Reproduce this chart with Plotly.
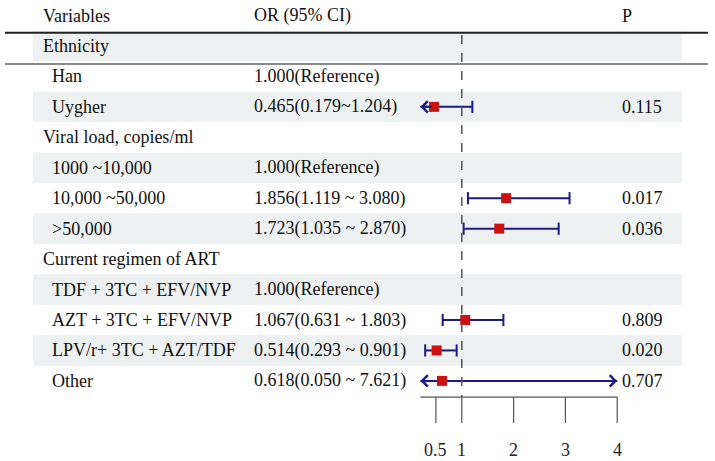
import plotly.graph_objects as go

# ---------------- data ----------------
labels = ["Ethnicity", "Han", "Uygher", "Viral load, copies/ml", "1000 ~10,000",
          "10,000 ~50,000", ">50,000", "Current regimen of ART",
          "TDF + 3TC + EFV/NVP", "AZT + 3TC + EFV/NVP", "LPV/r+ 3TC + AZT/TDF", "Other"]
is_group = [True, False, False, True, False, False, False, True, False, False, False, False]
or_text = ["", "1.000(Reference)", "0.465(0.179~1.204)", "", "1.000(Reference)",
           "1.856(1.119 ~ 3.080)", "1.723(1.035 ~ 2.870)", "", "1.000(Reference)",
           "1.067(0.631 ~ 1.803)", "0.514(0.293 ~ 0.901)", "0.618(0.050 ~ 7.621)"]
p_text = ["", "", "0.115", "", "", "0.017", "0.036", "", "", "0.809", "0.020", "0.707"]
or_val = [None, None, 0.465, None, None, 1.856, 1.723, None, None, 1.067, 0.514, 0.618]
ci_low = [None, None, 0.179, None, None, 1.119, 1.035, None, None, 0.631, 0.293, 0.050]
ci_high = [None, None, 1.204, None, None, 3.080, 2.870, None, None, 1.803, 0.901, 7.621]
tick_vals = [0.5, 1, 2, 3, 4]
tick_labels = ["0.5", "1", "2", "3", "4"]
clip = [0.2, 4]

# --------------- layout helpers ---------------
W, H = 715, 461
FONT = "Liberation Serif, Times New Roman, serif"
FS = 18
NAVY = "#1b1b86"
RED = "#cc1111"
GREY = "#555555"
SHADE = "#eef1f1"

rows = list(range(1, len(labels) + 1))   # header is row 0
x_px0, x_unit = 410.0, 51.8                # pixel of x=0 and pixels per unit
y_px0, y_unit = 15.5, 30.45                # pixel of row 0 and pixels per row
xr = [-x_px0 / x_unit, (W - x_px0) / x_unit]
yr = [(H - y_px0) / y_unit, -y_px0 / y_unit]

def px2y(p):
    return (p - y_px0) / y_unit

fig = go.Figure()
shapes = []
annotations = []

# shaded bands
for i, r in enumerate(rows):
    if i % 2 == 0:
        shapes.append(dict(type="rect", xref="paper", yref="y", x0=33 / W, x1=682 / W,
                           y0=r - 0.5, y1=r + 0.5, fillcolor=SHADE, line_width=0, layer="below"))

# horizontal rules
shapes.append(dict(type="line", xref="paper", yref="y", x0=5 / W, x1=708 / W,
                   y0=px2y(32.7), y1=px2y(32.7), line=dict(color="#222222", width=2)))
shapes.append(dict(type="line", xref="paper", yref="y", x0=5 / W, x1=708 / W,
                   y0=px2y(64), y1=px2y(64), line=dict(color="#666666", width=1.3)))

axis_y = rows[-1] + 0.53
# reference dashed line
shapes.append(dict(type="line", xref="x", yref="y", x0=1, x1=1, y0=px2y(35), y1=axis_y,
                   line=dict(color=GREY, width=1.5, dash="dash")))
# x-axis line and ticks
shapes.append(dict(type="line", xref="x", yref="y", x0=clip[0], x1=clip[1], y0=axis_y, y1=axis_y,
                   line=dict(color=GREY, width=1.2)))
for tv, tl in zip(tick_vals, tick_labels):
    shapes.append(dict(type="line", xref="x", yref="y", x0=tv, x1=tv, y0=axis_y, y1=axis_y + 0.85,
                       line=dict(color=GREY, width=1.2)))
    annotations.append(dict(x=tv, y=axis_y + 1.75, xref="x", yref="y", text=tl, showarrow=False,
                            font=dict(family=FONT, size=FS, color="#222"), xanchor="center",
                            yanchor="middle"))

# header text
txt_font = dict(family=FONT, size=FS, color="#111")
for xp, t in [(41, "Variables"), (252, "OR (95% CI)"), (620, "P")]:
    annotations.append(dict(x=xp / W, y=0, xref="paper", yref="y", text=t, showarrow=False,
                            font=txt_font, xanchor="left", yanchor="middle"))

# table text
for i, r in enumerate(rows):
    annotations.append(dict(x=(41 if is_group[i] else 50) / W, y=r, xref="paper", yref="y",
                            text=labels[i], showarrow=False, font=txt_font,
                            xanchor="left", yanchor="middle"))
    if or_text[i]:
        annotations.append(dict(x=252 / W, y=r, xref="paper", yref="y", text=or_text[i],
                                showarrow=False, font=txt_font, xanchor="left", yanchor="middle"))
    if p_text[i]:
        annotations.append(dict(x=620 / W, y=r, xref="paper", yref="y", text=p_text[i],
                                showarrow=False, font=txt_font, xanchor="left", yanchor="middle"))

# CI lines, caps, arrows
lx, ly = [], []
cap = 0.2
for i, r in enumerate(rows):
    if or_val[i] is None:
        continue
    lo = max(ci_low[i], clip[0])
    hi = min(ci_high[i], clip[1])
    lx += [lo, hi, None]
    ly += [r, r, None]
    if ci_low[i] >= clip[0]:
        lx += [lo, lo, None]
        ly += [r - cap, r + cap, None]
    else:
        annotations.append(dict(x=lo, y=r, ax=lo + 0.25, ay=r, xref="x", yref="y", axref="x",
                                ayref="y", text="", showarrow=True, arrowhead=4, arrowsize=1.1,
                                arrowwidth=2, arrowcolor=NAVY, standoff=0))
    if ci_high[i] <= clip[1]:
        lx += [hi, hi, None]
        ly += [r - cap, r + cap, None]
    else:
        annotations.append(dict(x=hi, y=r, ax=hi - 0.25, ay=r, xref="x", yref="y", axref="x",
                                ayref="y", text="", showarrow=True, arrowhead=4, arrowsize=1.1,
                                arrowwidth=2, arrowcolor=NAVY, standoff=0))

fig.add_trace(go.Scatter(x=lx, y=ly, mode="lines", line=dict(color=NAVY, width=2),
                         hoverinfo="skip", showlegend=False))
mx = [v for v in or_val if v is not None]
my = [r for r, v in zip(rows, or_val) if v is not None]
fig.add_trace(go.Scatter(x=mx, y=my, mode="markers",
                         marker=dict(symbol="square", size=10, color=RED, line=dict(width=0)),
                         showlegend=False))

fig.update_layout(
    width=W, height=H, margin=dict(l=0, r=0, t=0, b=0),
    paper_bgcolor="white", plot_bgcolor="white",
    xaxis=dict(range=xr, visible=False, fixedrange=True),
    yaxis=dict(range=yr, visible=False, fixedrange=True),
    shapes=shapes, annotations=annotations,
)
fig.write_html("out.html")
